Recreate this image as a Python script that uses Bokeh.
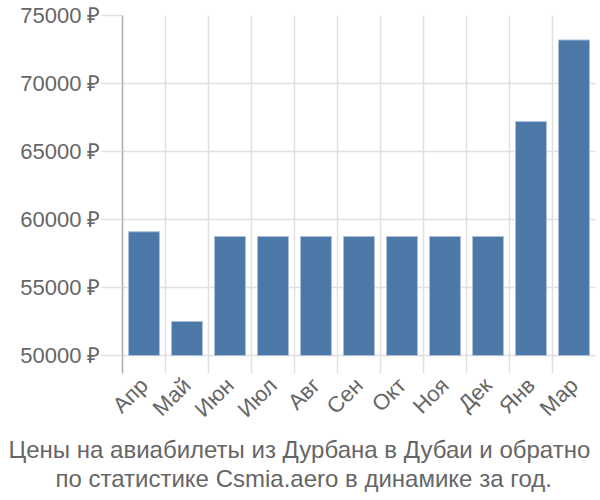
from bokeh.plotting import figure
from bokeh.models import FixedTicker, Range1d, ColumnDataSource, Title
from bokeh.embed import file_html
from bokeh.resources import INLINE
import math

months = ["Апр", "Май", "Июн", "Июл", "Авг", "Сен", "Окт", "Ноя", "Дек", "Янв", "Мар"]
prices = [59100, 52500, 58750, 58750, 58750, 58750, 58750, 58750, 58750, 67200, 73200]
y_ticks = [50000, 55000, 60000, 65000, 70000, 75000]
title_lines = ["Цены на авиабилеты из Дурбана в Дубаи и обратно",
               "по статистике Csmia.aero в динамике за год."]

FONT = "Liberation Sans"
GRAY = "#666666"

xs = [i + 0.5 for i in range(len(months))]
src = ColumnDataSource(dict(x=xs, top=prices))

p = figure(width=600, height=500, output_backend="svg", toolbar_location=None,
           x_range=Range1d(0, len(months)), y_range=Range1d(48676, 75000),
           min_border_left=122, min_border_right=5, min_border_top=15, min_border_bottom=127)
p.outline_line_color = None

p.vbar(x="x", top="top", bottom=50000, width=0.72, source=src,
       fill_color="#4c78a8", line_color="#a9c0da", line_width=1)

# x axis
p.xaxis.ticker = FixedTicker(ticks=xs)
p.xaxis.major_label_overrides = {x: m for x, m in zip(xs, months)}
p.xaxis.axis_line_color = None
p.xaxis.major_tick_line_color = None
p.xaxis.minor_tick_line_color = None
p.xaxis.major_label_orientation = math.pi / 4
p.xaxis.major_label_text_font = FONT
p.xaxis.major_label_text_font_size = "22px"
p.xaxis.major_label_text_color = GRAY
p.xaxis.major_label_standoff = 2
p.xgrid.ticker = FixedTicker(ticks=list(range(len(months) + 1)))
p.xgrid.grid_line_color = "#e0e0e0"
p.xgrid.grid_line_width = 1.5

# y axis
p.yaxis.ticker = FixedTicker(ticks=y_ticks)
p.yaxis.major_label_overrides = {v: f"{v} ₽" for v in y_ticks}
p.yaxis.axis_line_color = "#aaaaaa"
p.yaxis.axis_line_width = 1.5
p.yaxis.major_tick_line_color = "#e0e0e0"
p.yaxis.major_tick_line_width = 1.5
p.yaxis.major_tick_out = 21
p.yaxis.major_tick_in = 0
p.yaxis.minor_tick_line_color = None
p.yaxis.major_label_text_font = FONT
p.yaxis.major_label_text_font_size = "22px"
p.yaxis.major_label_text_color = GRAY
p.yaxis.major_label_standoff = 1
p.ygrid.grid_line_color = "#e0e0e0"
p.ygrid.grid_line_width = 1.5

# two-line caption under the chart (left-aligned titles shifted to centre on the page)
for t, off in zip(title_lines, [-114, -67]):
    p.add_layout(Title(text=t, align="left", offset=off, standoff=0,
                       text_font=FONT, text_font_size="24px", text_font_style="normal",
                       text_color=GRAY), "below")

open("out.html", "w").write(file_html(p, INLINE))
